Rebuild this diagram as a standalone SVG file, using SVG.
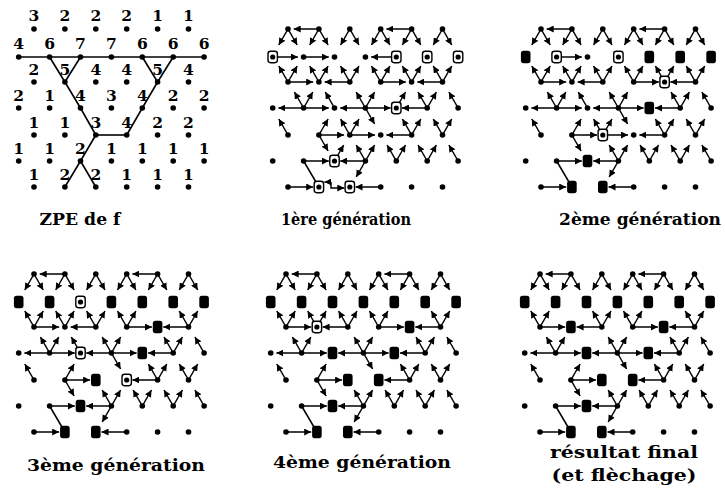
<svg xmlns="http://www.w3.org/2000/svg" xmlns:xlink="http://www.w3.org/1999/xlink" width="725" height="500" viewBox="0 0 725 500">
<style>
.c line,.c polyline{stroke:#000;stroke-width:1.5;fill:none;marker-end:url(#ah)}
.c line.n{marker-end:none}
.z line{stroke:#000;stroke-width:1.6}
.lb{font-family:"DejaVu Serif",serif;font-weight:bold;font-size:15.5px;text-anchor:middle}
.tt{font-family:"DejaVu Serif",serif;font-weight:bold;font-size:16.5px;text-anchor:middle}
</style>
<defs>
<marker id="ah" viewBox="0 0 7 7" refX="7" refY="3.5" markerWidth="7" markerHeight="7" orient="auto" markerUnits="userSpaceOnUse"><path d="M0,0L7,3.5L0,7z"/></marker>
<circle id="d" r="2.8"/>
<g id="f"><rect x="-4.7" y="-5.7" width="9.4" height="11.4" rx="2.6" fill="#fff" stroke="#000" stroke-width="1.4"/><circle r="2.6"/></g>
<rect id="s" x="-4.8" y="-6.2" width="9.6" height="12.4" rx="2.6"/>
<g id="fx" class="c">
<line x1="64.9" y1="29" x2="39.7" y2="29"/><line x1="157.6" y1="29" x2="132.4" y2="29"/>
<line x1="34" y1="82" x2="59.2" y2="82"/><line x1="95.8" y1="82" x2="70.6" y2="82"/><line x1="126.7" y1="82" x2="151.9" y2="82"/><line x1="188.5" y1="82" x2="163.3" y2="82"/>
<line x1="49.6" y1="108" x2="24.4" y2="108"/><line x1="49.6" y1="108" x2="74.8" y2="108"/><line x1="111.4" y1="108" x2="86.2" y2="108"/><line x1="111.4" y1="108" x2="136.6" y2="108"/><line x1="173.2" y1="108" x2="148" y2="108"/>
<line x1="64.9" y1="135" x2="90.1" y2="135"/><line x1="157.6" y1="135" x2="132.4" y2="135"/>
<line x1="49.6" y1="161" x2="74.8" y2="161"/><line x1="111.4" y1="161" x2="86.2" y2="161"/>
<line x1="34" y1="187" x2="59.2" y2="187"/><line x1="126.7" y1="187" x2="101.5" y2="187"/>
<line x1="34" y1="29" x2="24.8" y2="45"/><line x1="34" y1="29" x2="43.2" y2="45"/>
<line x1="64.9" y1="29" x2="55.7" y2="45"/><line x1="64.9" y1="29" x2="74.1" y2="45"/>
<line x1="95.8" y1="29" x2="86.6" y2="45"/><line x1="95.8" y1="29" x2="105" y2="45"/>
<line x1="126.7" y1="29" x2="117.5" y2="45"/><line x1="126.7" y1="29" x2="135.9" y2="45"/>
<line x1="157.6" y1="29" x2="148.4" y2="45"/><line x1="157.6" y1="29" x2="166.8" y2="45"/>
<line x1="188.5" y1="29" x2="179.3" y2="45"/><line x1="188.5" y1="29" x2="197.7" y2="45"/>
<line x1="34" y1="82" x2="24.8" y2="66"/><line x1="34" y1="82" x2="43.2" y2="66"/>
<line x1="95.8" y1="82" x2="86.6" y2="66"/><line x1="95.8" y1="82" x2="105" y2="66"/>
<line x1="126.7" y1="82" x2="117.5" y2="66"/><line x1="126.7" y1="82" x2="135.9" y2="66"/>
<line x1="188.5" y1="82" x2="179.3" y2="66"/><line x1="188.5" y1="82" x2="197.7" y2="66"/>
<line x1="49.6" y1="108" x2="40.4" y2="92"/><line x1="49.6" y1="108" x2="58.8" y2="92"/>
<line x1="111.4" y1="108" x2="102.2" y2="92"/><line x1="111.4" y1="108" x2="120.6" y2="92"/>
<line x1="173.2" y1="108" x2="164" y2="92"/><line x1="173.2" y1="108" x2="182.4" y2="92"/>
<line x1="204.1" y1="108" x2="194.9" y2="92"/>
<line x1="34" y1="135" x2="24.8" y2="119"/><line x1="64.9" y1="135" x2="74.1" y2="119"/><line x1="111.4" y1="108" x2="120.6" y2="124"/><line x1="157.6" y1="135" x2="148.4" y2="119"/>
<line x1="157.6" y1="135" x2="166.8" y2="119"/><line x1="188.5" y1="135" x2="179.3" y2="119"/><line x1="188.5" y1="135" x2="197.7" y2="119"/>
<line x1="64.9" y1="135" x2="74.1" y2="151"/>
<line x1="111.4" y1="161" x2="102.2" y2="145"/><line x1="111.4" y1="161" x2="120.6" y2="145"/>
<line x1="142.3" y1="161" x2="133.1" y2="145"/><line x1="142.3" y1="161" x2="151.5" y2="145"/>
<line x1="173.2" y1="161" x2="164" y2="145"/><line x1="173.2" y1="161" x2="182.4" y2="145"/>
<line x1="204.1" y1="161" x2="194.9" y2="145"/>
<line x1="111.4" y1="161" x2="102.2" y2="177"/>
<line class="n" x1="49.6" y1="161" x2="64.9" y2="187"/>
</g>
</defs>
<rect width="725" height="500" fill="#fff"/>

<g id="panel1">
<g class="z" id="p1-connectors">
<line x1="18.7" y1="57" x2="204.1" y2="57"/>
<line x1="49.6" y1="57" x2="64.9" y2="82"/><line x1="80.5" y1="57" x2="64.9" y2="82"/>
<line x1="142.3" y1="57" x2="157.6" y2="82"/><line x1="173.2" y1="57" x2="157.6" y2="82"/>
<line x1="64.9" y1="82" x2="80.5" y2="108"/><line x1="80.5" y1="108" x2="95.8" y2="135"/>
<line x1="157.6" y1="82" x2="142.3" y2="108"/><line x1="142.3" y1="108" x2="126.7" y2="135"/>
<line x1="95.8" y1="135" x2="126.7" y2="135"/>
<line x1="95.8" y1="135" x2="80.5" y2="161"/>
<line x1="80.5" y1="161" x2="64.9" y2="187"/><line x1="80.5" y1="161" x2="95.8" y2="187"/>
</g>
<g class="lb">
<g id="a-r0-0"><text x="34" y="21">3</text><use href="#d" x="34" y="29"/></g>
<g id="a-r0-1"><text x="64.9" y="21">2</text><use href="#d" x="64.9" y="29"/></g>
<g id="a-r0-2"><text x="95.8" y="21">2</text><use href="#d" x="95.8" y="29"/></g>
<g id="a-r0-3"><text x="126.7" y="21">2</text><use href="#d" x="126.7" y="29"/></g>
<g id="a-r0-4"><text x="157.6" y="21">1</text><use href="#d" x="157.6" y="29"/></g>
<g id="a-r0-5"><text x="188.5" y="21">1</text><use href="#d" x="188.5" y="29"/></g>
<g id="a-r1-0"><text x="18.7" y="49">4</text><use href="#d" x="18.7" y="57"/></g>
<g id="a-r1-1"><text x="49.6" y="49">6</text><use href="#d" x="49.6" y="57"/></g>
<g id="a-r1-2"><text x="80.5" y="49">7</text><use href="#d" x="80.5" y="57"/></g>
<g id="a-r1-3"><text x="111.4" y="49">7</text><use href="#d" x="111.4" y="57"/></g>
<g id="a-r1-4"><text x="142.3" y="49">6</text><use href="#d" x="142.3" y="57"/></g>
<g id="a-r1-5"><text x="173.2" y="49">6</text><use href="#d" x="173.2" y="57"/></g>
<g id="a-r1-6"><text x="204.1" y="49">6</text><use href="#d" x="204.1" y="57"/></g>
<g id="a-r2-0"><text x="34" y="75">2</text><use href="#d" x="34" y="82"/></g>
<g id="a-r2-1"><text x="64.9" y="75">5</text><use href="#d" x="64.9" y="82"/></g>
<g id="a-r2-2"><text x="95.8" y="75">4</text><use href="#d" x="95.8" y="82"/></g>
<g id="a-r2-3"><text x="126.7" y="75">4</text><use href="#d" x="126.7" y="82"/></g>
<g id="a-r2-4"><text x="157.6" y="75">5</text><use href="#d" x="157.6" y="82"/></g>
<g id="a-r2-5"><text x="188.5" y="75">4</text><use href="#d" x="188.5" y="82"/></g>
<g id="a-r3-0"><text x="18.7" y="101">2</text><use href="#d" x="18.7" y="108"/></g>
<g id="a-r3-1"><text x="49.6" y="101">1</text><use href="#d" x="49.6" y="108"/></g>
<g id="a-r3-2"><text x="80.5" y="101">4</text><use href="#d" x="80.5" y="108"/></g>
<g id="a-r3-3"><text x="111.4" y="101">3</text><use href="#d" x="111.4" y="108"/></g>
<g id="a-r3-4"><text x="142.3" y="101">4</text><use href="#d" x="142.3" y="108"/></g>
<g id="a-r3-5"><text x="173.2" y="101">2</text><use href="#d" x="173.2" y="108"/></g>
<g id="a-r3-6"><text x="204.1" y="101">2</text><use href="#d" x="204.1" y="108"/></g>
<g id="a-r4-0"><text x="34" y="128">1</text><use href="#d" x="34" y="135"/></g>
<g id="a-r4-1"><text x="64.9" y="128">1</text><use href="#d" x="64.9" y="135"/></g>
<g id="a-r4-2"><text x="95.8" y="128">3</text><use href="#d" x="95.8" y="135"/></g>
<g id="a-r4-3"><text x="126.7" y="128">4</text><use href="#d" x="126.7" y="135"/></g>
<g id="a-r4-4"><text x="157.6" y="128">2</text><use href="#d" x="157.6" y="135"/></g>
<g id="a-r4-5"><text x="188.5" y="128">2</text><use href="#d" x="188.5" y="135"/></g>
<g id="a-r5-0"><text x="18.7" y="154">1</text><use href="#d" x="18.7" y="161"/></g>
<g id="a-r5-1"><text x="49.6" y="154">1</text><use href="#d" x="49.6" y="161"/></g>
<g id="a-r5-2"><text x="80.5" y="154">2</text><use href="#d" x="80.5" y="161"/></g>
<g id="a-r5-3"><text x="111.4" y="154">1</text><use href="#d" x="111.4" y="161"/></g>
<g id="a-r5-4"><text x="142.3" y="154">1</text><use href="#d" x="142.3" y="161"/></g>
<g id="a-r5-5"><text x="173.2" y="154">1</text><use href="#d" x="173.2" y="161"/></g>
<g id="a-r5-6"><text x="204.1" y="154">1</text><use href="#d" x="204.1" y="161"/></g>
<g id="a-r6-0"><text x="34" y="180">1</text><use href="#d" x="34" y="187"/></g>
<g id="a-r6-1"><text x="64.9" y="180">2</text><use href="#d" x="64.9" y="187"/></g>
<g id="a-r6-2"><text x="95.8" y="180">2</text><use href="#d" x="95.8" y="187"/></g>
<g id="a-r6-3"><text x="126.7" y="180">1</text><use href="#d" x="126.7" y="187"/></g>
<g id="a-r6-4"><text x="157.6" y="180">1</text><use href="#d" x="157.6" y="187"/></g>
<g id="a-r6-5"><text x="188.5" y="180">1</text><use href="#d" x="188.5" y="187"/></g>
</g>
</g>

<g id="panel2" transform="translate(254,0)">
<g class="c" id="p2-connectors">
<use href="#fx"/>
<line x1="18.7" y1="57" x2="43.9" y2="57"/><line x1="49.6" y1="57" x2="74.8" y2="57"/><line x1="142.3" y1="57" x2="117.1" y2="57"/>
<line x1="64.9" y1="82" x2="55.7" y2="66"/><line x1="64.9" y1="82" x2="74.1" y2="66"/>
<line x1="157.6" y1="82" x2="148.4" y2="66"/><line x1="157.6" y1="82" x2="166.8" y2="66"/>
<line x1="80.5" y1="108" x2="71.3" y2="92"/><line x1="142.3" y1="108" x2="151.5" y2="92"/>
<line x1="95.8" y1="135" x2="86.6" y2="119"/><line x1="95.8" y1="135" x2="105" y2="119"/>
<line x1="95.8" y1="135" x2="121" y2="135"/>
<line x1="80.5" y1="161" x2="89.7" y2="145"/>
<line x1="77" y1="182" x2="70.4" y2="182"/><polyline points="77,182 77,188 90.3,188"/>
</g>
<use id="b-r0-0" href="#d" x="34" y="29"/><use id="b-r0-1" href="#d" x="64.9" y="29"/><use id="b-r0-2" href="#d" x="95.8" y="29"/><use id="b-r0-3" href="#d" x="126.7" y="29"/><use id="b-r0-4" href="#d" x="157.6" y="29"/><use id="b-r0-5" href="#d" x="188.5" y="29"/>
<use id="b-r1-0" href="#f" x="18.7" y="57"/><use id="b-r1-1" href="#d" x="49.6" y="57"/><use id="b-r1-2" href="#d" x="80.5" y="57"/><use id="b-r1-3" href="#d" x="111.4" y="57"/><use id="b-r1-4" href="#f" x="142.3" y="57"/><use id="b-r1-5" href="#f" x="173.2" y="57"/><use id="b-r1-6" href="#f" x="204.1" y="57"/>
<use id="b-r2-0" href="#d" x="34" y="82"/><use id="b-r2-1" href="#d" x="64.9" y="82"/><use id="b-r2-2" href="#d" x="95.8" y="82"/><use id="b-r2-3" href="#d" x="126.7" y="82"/><use id="b-r2-4" href="#d" x="157.6" y="82"/><use id="b-r2-5" href="#d" x="188.5" y="82"/>
<use id="b-r3-0" href="#d" x="18.7" y="108"/><use id="b-r3-1" href="#d" x="49.6" y="108"/><use id="b-r3-2" href="#d" x="80.5" y="108"/><use id="b-r3-3" href="#d" x="111.4" y="108"/><use id="b-r3-4" href="#f" x="142.3" y="108"/><use id="b-r3-5" href="#d" x="173.2" y="108"/><use id="b-r3-6" href="#d" x="204.1" y="108"/>
<use id="b-r4-0" href="#d" x="34" y="135"/><use id="b-r4-1" href="#d" x="64.9" y="135"/><use id="b-r4-2" href="#d" x="95.8" y="135"/><use id="b-r4-3" href="#d" x="126.7" y="135"/><use id="b-r4-4" href="#d" x="157.6" y="135"/><use id="b-r4-5" href="#d" x="188.5" y="135"/>
<use id="b-r5-0" href="#d" x="18.7" y="161"/><use id="b-r5-1" href="#d" x="49.6" y="161"/><use id="b-r5-2" href="#f" x="80.5" y="161"/><use id="b-r5-3" href="#d" x="111.4" y="161"/><use id="b-r5-4" href="#d" x="142.3" y="161"/><use id="b-r5-5" href="#d" x="173.2" y="161"/><use id="b-r5-6" href="#d" x="204.1" y="161"/>
<use id="b-r6-0" href="#d" x="34" y="187"/><use id="b-r6-1" href="#f" x="64.9" y="187"/><use id="b-r6-2" href="#f" x="95.8" y="187"/><use id="b-r6-3" href="#d" x="126.7" y="187"/><use id="b-r6-4" href="#d" x="157.6" y="187"/><use id="b-r6-5" href="#d" x="188.5" y="187"/>
</g>

<g id="panel3" transform="translate(507,0)">
<g class="c" id="p3-connectors">
<use href="#fx"/>
<line x1="49.6" y1="57" x2="74.8" y2="57"/>
<line x1="64.9" y1="82" x2="55.7" y2="66"/><line x1="64.9" y1="82" x2="74.1" y2="66"/>
<line x1="157.6" y1="82" x2="148.4" y2="66"/><line x1="157.6" y1="82" x2="166.8" y2="66"/>
<line x1="80.5" y1="108" x2="71.3" y2="92"/>
<line x1="95.8" y1="135" x2="86.6" y2="119"/><line x1="95.8" y1="135" x2="105" y2="119"/>
<line x1="95.8" y1="135" x2="121" y2="135"/>
</g>
<use id="c-r0-0" href="#d" x="34" y="29"/><use id="c-r0-1" href="#d" x="64.9" y="29"/><use id="c-r0-2" href="#d" x="95.8" y="29"/><use id="c-r0-3" href="#d" x="126.7" y="29"/><use id="c-r0-4" href="#d" x="157.6" y="29"/><use id="c-r0-5" href="#d" x="188.5" y="29"/>
<use id="c-r1-0" href="#s" x="18.7" y="57"/><use id="c-r1-1" href="#f" x="49.6" y="57"/><use id="c-r1-2" href="#d" x="80.5" y="57"/><use id="c-r1-3" href="#f" x="111.4" y="57"/><use id="c-r1-4" href="#s" x="142.3" y="57"/><use id="c-r1-5" href="#s" x="173.2" y="57"/><use id="c-r1-6" href="#s" x="204.1" y="57"/>
<use id="c-r2-0" href="#d" x="34" y="82"/><use id="c-r2-1" href="#d" x="64.9" y="82"/><use id="c-r2-2" href="#d" x="95.8" y="82"/><use id="c-r2-3" href="#d" x="126.7" y="82"/><use id="c-r2-4" href="#f" x="157.6" y="82"/><use id="c-r2-5" href="#d" x="188.5" y="82"/>
<use id="c-r3-0" href="#d" x="18.7" y="108"/><use id="c-r3-1" href="#d" x="49.6" y="108"/><use id="c-r3-2" href="#d" x="80.5" y="108"/><use id="c-r3-3" href="#d" x="111.4" y="108"/><use id="c-r3-4" href="#s" x="142.3" y="108"/><use id="c-r3-5" href="#d" x="173.2" y="108"/><use id="c-r3-6" href="#d" x="204.1" y="108"/>
<use id="c-r4-0" href="#d" x="34" y="135"/><use id="c-r4-1" href="#d" x="64.9" y="135"/><use id="c-r4-2" href="#f" x="95.8" y="135"/><use id="c-r4-3" href="#d" x="126.7" y="135"/><use id="c-r4-4" href="#d" x="157.6" y="135"/><use id="c-r4-5" href="#d" x="188.5" y="135"/>
<use id="c-r5-0" href="#d" x="18.7" y="161"/><use id="c-r5-1" href="#d" x="49.6" y="161"/><use id="c-r5-2" href="#s" x="80.5" y="161"/><use id="c-r5-3" href="#d" x="111.4" y="161"/><use id="c-r5-4" href="#d" x="142.3" y="161"/><use id="c-r5-5" href="#d" x="173.2" y="161"/><use id="c-r5-6" href="#d" x="204.1" y="161"/>
<use id="c-r6-0" href="#d" x="34" y="187"/><use id="c-r6-1" href="#s" x="64.9" y="187"/><use id="c-r6-2" href="#s" x="95.8" y="187"/><use id="c-r6-3" href="#d" x="126.7" y="187"/><use id="c-r6-4" href="#d" x="157.6" y="187"/><use id="c-r6-5" href="#d" x="188.5" y="187"/>
</g>

<g id="panel4" transform="translate(0,245)">
<g class="c" id="p4-connectors">
<use href="#fx"/>
<line x1="64.9" y1="82" x2="55.7" y2="66"/><line x1="64.9" y1="82" x2="74.1" y2="66"/>
<line x1="80.5" y1="108" x2="71.3" y2="92"/>
</g>
<use id="d-r0-0" href="#d" x="34" y="29"/><use id="d-r0-1" href="#d" x="64.9" y="29"/><use id="d-r0-2" href="#d" x="95.8" y="29"/><use id="d-r0-3" href="#d" x="126.7" y="29"/><use id="d-r0-4" href="#d" x="157.6" y="29"/><use id="d-r0-5" href="#d" x="188.5" y="29"/>
<use id="d-r1-0" href="#s" x="18.7" y="57"/><use id="d-r1-1" href="#s" x="49.6" y="57"/><use id="d-r1-2" href="#f" x="80.5" y="57"/><use id="d-r1-3" href="#s" x="111.4" y="57"/><use id="d-r1-4" href="#s" x="142.3" y="57"/><use id="d-r1-5" href="#s" x="173.2" y="57"/><use id="d-r1-6" href="#s" x="204.1" y="57"/>
<use id="d-r2-0" href="#d" x="34" y="82"/><use id="d-r2-1" href="#d" x="64.9" y="82"/><use id="d-r2-2" href="#d" x="95.8" y="82"/><use id="d-r2-3" href="#d" x="126.7" y="82"/><use id="d-r2-4" href="#s" x="157.6" y="82"/><use id="d-r2-5" href="#d" x="188.5" y="82"/>
<use id="d-r3-0" href="#d" x="18.7" y="108"/><use id="d-r3-1" href="#d" x="49.6" y="108"/><use id="d-r3-2" href="#f" x="80.5" y="108"/><use id="d-r3-3" href="#d" x="111.4" y="108"/><use id="d-r3-4" href="#s" x="142.3" y="108"/><use id="d-r3-5" href="#d" x="173.2" y="108"/><use id="d-r3-6" href="#d" x="204.1" y="108"/>
<use id="d-r4-0" href="#d" x="34" y="135"/><use id="d-r4-1" href="#d" x="64.9" y="135"/><use id="d-r4-2" href="#s" x="95.8" y="135"/><use id="d-r4-3" href="#f" x="126.7" y="135"/><use id="d-r4-4" href="#d" x="157.6" y="135"/><use id="d-r4-5" href="#d" x="188.5" y="135"/>
<use id="d-r5-0" href="#d" x="18.7" y="161"/><use id="d-r5-1" href="#d" x="49.6" y="161"/><use id="d-r5-2" href="#s" x="80.5" y="161"/><use id="d-r5-3" href="#d" x="111.4" y="161"/><use id="d-r5-4" href="#d" x="142.3" y="161"/><use id="d-r5-5" href="#d" x="173.2" y="161"/><use id="d-r5-6" href="#d" x="204.1" y="161"/>
<use id="d-r6-0" href="#d" x="34" y="187"/><use id="d-r6-1" href="#s" x="64.9" y="187"/><use id="d-r6-2" href="#s" x="95.8" y="187"/><use id="d-r6-3" href="#d" x="126.7" y="187"/><use id="d-r6-4" href="#d" x="157.6" y="187"/><use id="d-r6-5" href="#d" x="188.5" y="187"/>
</g>

<g id="panel5" transform="translate(252,245)">
<g class="c" id="p5-connectors">
<use href="#fx"/>
<line x1="64.9" y1="82" x2="55.7" y2="66"/><line x1="64.9" y1="82" x2="74.1" y2="66"/>
</g>
<use id="e-r0-0" href="#d" x="34" y="29"/><use id="e-r0-1" href="#d" x="64.9" y="29"/><use id="e-r0-2" href="#d" x="95.8" y="29"/><use id="e-r0-3" href="#d" x="126.7" y="29"/><use id="e-r0-4" href="#d" x="157.6" y="29"/><use id="e-r0-5" href="#d" x="188.5" y="29"/>
<use id="e-r1-0" href="#s" x="18.7" y="57"/><use id="e-r1-1" href="#s" x="49.6" y="57"/><use id="e-r1-2" href="#s" x="80.5" y="57"/><use id="e-r1-3" href="#s" x="111.4" y="57"/><use id="e-r1-4" href="#s" x="142.3" y="57"/><use id="e-r1-5" href="#s" x="173.2" y="57"/><use id="e-r1-6" href="#s" x="204.1" y="57"/>
<use id="e-r2-0" href="#d" x="34" y="82"/><use id="e-r2-1" href="#f" x="64.9" y="82"/><use id="e-r2-2" href="#d" x="95.8" y="82"/><use id="e-r2-3" href="#d" x="126.7" y="82"/><use id="e-r2-4" href="#s" x="157.6" y="82"/><use id="e-r2-5" href="#d" x="188.5" y="82"/>
<use id="e-r3-0" href="#d" x="18.7" y="108"/><use id="e-r3-1" href="#d" x="49.6" y="108"/><use id="e-r3-2" href="#s" x="80.5" y="108"/><use id="e-r3-3" href="#d" x="111.4" y="108"/><use id="e-r3-4" href="#s" x="142.3" y="108"/><use id="e-r3-5" href="#d" x="173.2" y="108"/><use id="e-r3-6" href="#d" x="204.1" y="108"/>
<use id="e-r4-0" href="#d" x="34" y="135"/><use id="e-r4-1" href="#d" x="64.9" y="135"/><use id="e-r4-2" href="#s" x="95.8" y="135"/><use id="e-r4-3" href="#s" x="126.7" y="135"/><use id="e-r4-4" href="#d" x="157.6" y="135"/><use id="e-r4-5" href="#d" x="188.5" y="135"/>
<use id="e-r5-0" href="#d" x="18.7" y="161"/><use id="e-r5-1" href="#d" x="49.6" y="161"/><use id="e-r5-2" href="#s" x="80.5" y="161"/><use id="e-r5-3" href="#d" x="111.4" y="161"/><use id="e-r5-4" href="#d" x="142.3" y="161"/><use id="e-r5-5" href="#d" x="173.2" y="161"/><use id="e-r5-6" href="#d" x="204.1" y="161"/>
<use id="e-r6-0" href="#d" x="34" y="187"/><use id="e-r6-1" href="#s" x="64.9" y="187"/><use id="e-r6-2" href="#s" x="95.8" y="187"/><use id="e-r6-3" href="#d" x="126.7" y="187"/><use id="e-r6-4" href="#d" x="157.6" y="187"/><use id="e-r6-5" href="#d" x="188.5" y="187"/>
</g>

<g id="panel6" transform="translate(506,245)">
<g class="c" id="p6-connectors">
<use href="#fx"/>
</g>
<use id="g-r0-0" href="#d" x="34" y="29"/><use id="g-r0-1" href="#d" x="64.9" y="29"/><use id="g-r0-2" href="#d" x="95.8" y="29"/><use id="g-r0-3" href="#d" x="126.7" y="29"/><use id="g-r0-4" href="#d" x="157.6" y="29"/><use id="g-r0-5" href="#d" x="188.5" y="29"/>
<use id="g-r1-0" href="#s" x="18.7" y="57"/><use id="g-r1-1" href="#s" x="49.6" y="57"/><use id="g-r1-2" href="#s" x="80.5" y="57"/><use id="g-r1-3" href="#s" x="111.4" y="57"/><use id="g-r1-4" href="#s" x="142.3" y="57"/><use id="g-r1-5" href="#s" x="173.2" y="57"/><use id="g-r1-6" href="#s" x="204.1" y="57"/>
<use id="g-r2-0" href="#d" x="34" y="82"/><use id="g-r2-1" href="#s" x="64.9" y="82"/><use id="g-r2-2" href="#d" x="95.8" y="82"/><use id="g-r2-3" href="#d" x="126.7" y="82"/><use id="g-r2-4" href="#s" x="157.6" y="82"/><use id="g-r2-5" href="#d" x="188.5" y="82"/>
<use id="g-r3-0" href="#d" x="18.7" y="108"/><use id="g-r3-1" href="#d" x="49.6" y="108"/><use id="g-r3-2" href="#s" x="80.5" y="108"/><use id="g-r3-3" href="#d" x="111.4" y="108"/><use id="g-r3-4" href="#s" x="142.3" y="108"/><use id="g-r3-5" href="#d" x="173.2" y="108"/><use id="g-r3-6" href="#d" x="204.1" y="108"/>
<use id="g-r4-0" href="#d" x="34" y="135"/><use id="g-r4-1" href="#d" x="64.9" y="135"/><use id="g-r4-2" href="#s" x="95.8" y="135"/><use id="g-r4-3" href="#s" x="126.7" y="135"/><use id="g-r4-4" href="#d" x="157.6" y="135"/><use id="g-r4-5" href="#d" x="188.5" y="135"/>
<use id="g-r5-0" href="#d" x="18.7" y="161"/><use id="g-r5-1" href="#d" x="49.6" y="161"/><use id="g-r5-2" href="#s" x="80.5" y="161"/><use id="g-r5-3" href="#d" x="111.4" y="161"/><use id="g-r5-4" href="#d" x="142.3" y="161"/><use id="g-r5-5" href="#d" x="173.2" y="161"/><use id="g-r5-6" href="#d" x="204.1" y="161"/>
<use id="g-r6-0" href="#d" x="34" y="187"/><use id="g-r6-1" href="#s" x="64.9" y="187"/><use id="g-r6-2" href="#s" x="95.8" y="187"/><use id="g-r6-3" href="#d" x="126.7" y="187"/><use id="g-r6-4" href="#d" x="157.6" y="187"/><use id="g-r6-5" href="#d" x="188.5" y="187"/>
</g>

<g id="titles" class="tt">
<text x="80" y="225" textLength="81" lengthAdjust="spacingAndGlyphs">ZPE de f</text>
<text x="346" y="225" textLength="130" lengthAdjust="spacingAndGlyphs">1ère génération</text>
<text x="640" y="225" textLength="162" lengthAdjust="spacingAndGlyphs">2ème génération</text>
<text x="116" y="471" textLength="178" lengthAdjust="spacingAndGlyphs">3ème génération</text>
<text x="362" y="468" textLength="178" lengthAdjust="spacingAndGlyphs">4ème génération</text>
<text x="624" y="458" textLength="148" lengthAdjust="spacingAndGlyphs">résultat final</text>
<text x="624" y="481" textLength="145" lengthAdjust="spacingAndGlyphs">(et flèchage)</text>
</g>
</svg>
